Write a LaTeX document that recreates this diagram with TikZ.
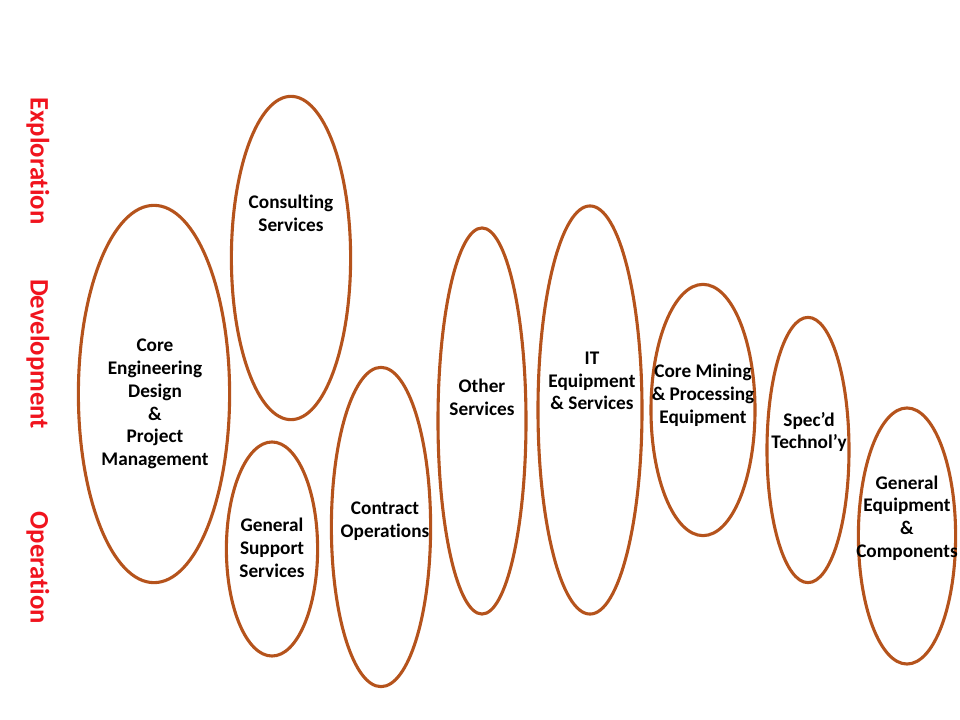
\documentclass[tikz,border=0pt]{standalone}
\usepackage{fontspec}
\setmainfont{Carlito}[Ligatures={NoCommon}]
\usepackage{xcolor}
\usepackage{tikz}
\usetikzlibrary{
shapes.geometric,
positioning
}
\definecolor{ovalbrown}{HTML}{B5531C}
\definecolor{phasered}{HTML}{F0141E}

\begin{document}
\begin{tikzpicture}[
  x=0.025cm, y=-0.025cm,
  oval/.style={
    draw=ovalbrown, line width=2.2pt, ellipse,
    inner sep=0pt
  },
  txt/.style={
    align=center, inner sep=0pt,
    font=\fontsize{13.7pt}{16.2pt}\selectfont\bfseries
  },
  phase/.style={
    rotate=-90, inner sep=0pt, text=phasered,
    font=\fontsize{19pt}{22pt}\selectfont\bfseries
  }
]
\useasboundingbox (0,0) rectangle (960,720);

%% ============================================================
%%  PHASE LABELS
%% ============================================================
\node[phase] (expl) at (38, 161) {Exploration};
\node[phase] (devl) at (38, 354) {Development};
\node[phase] (oper) at (38, 568) {Operation};

%% ============================================================
%%  OVALS
%% ============================================================
\node[oval, minimum width=3.78cm, minimum height=9.43cm] (core) at (154, 394) {};
\node[txt] (coreT) at (155, 404)
  {Core\\Engineering\\Design\\\&\\Project\\Management};

\node[oval, minimum width=2.98cm, minimum height=8.08cm] (cons) at (291, 258) {};
\node[txt] (consT) at (291, 213) {Consulting\\Services};

\node[oval, minimum width=2.28cm, minimum height=5.35cm] (supp) at (272, 549) {};
\node[txt] (suppT) at (272, 548) {General\\Support\\Services};

\node[oval, minimum width=2.48cm, minimum height=7.98cm] (cont) at (381, 527) {};
\node[txt] (contT) at (385, 521) {Contract\\Operations};

\node[oval, minimum width=2.2cm, minimum height=9.65cm] (othr) at (482, 421) {};
\node[txt] (othrT) at (482, 397) {Other\\Services};

\node[oval, minimum width=2.6cm, minimum height=10.2cm] (itsv) at (590, 410) {};
\node[txt] (itsvT) at (592, 381) {IT\\Equipment\\\& Services};

\node[oval, minimum width=2.6cm, minimum height=6.28cm] (mine) at (703, 410) {};
\node[txt] (mineT) at (703, 395) {Core Mining\\\& Processing\\Equipment};

\node[oval, minimum width=2.05cm, minimum height=6.63cm] (spec) at (808, 450) {};
\node[txt] (specT) at (809, 432) {Spec’d\\Technol’y};

\node[oval, minimum width=2.43cm, minimum height=6.4cm] (geqp) at (907, 536) {};
\node[txt] (geqpT) at (907, 518) {General\\Equipment\\\&\\Components};

\end{tikzpicture}
\end{document}
